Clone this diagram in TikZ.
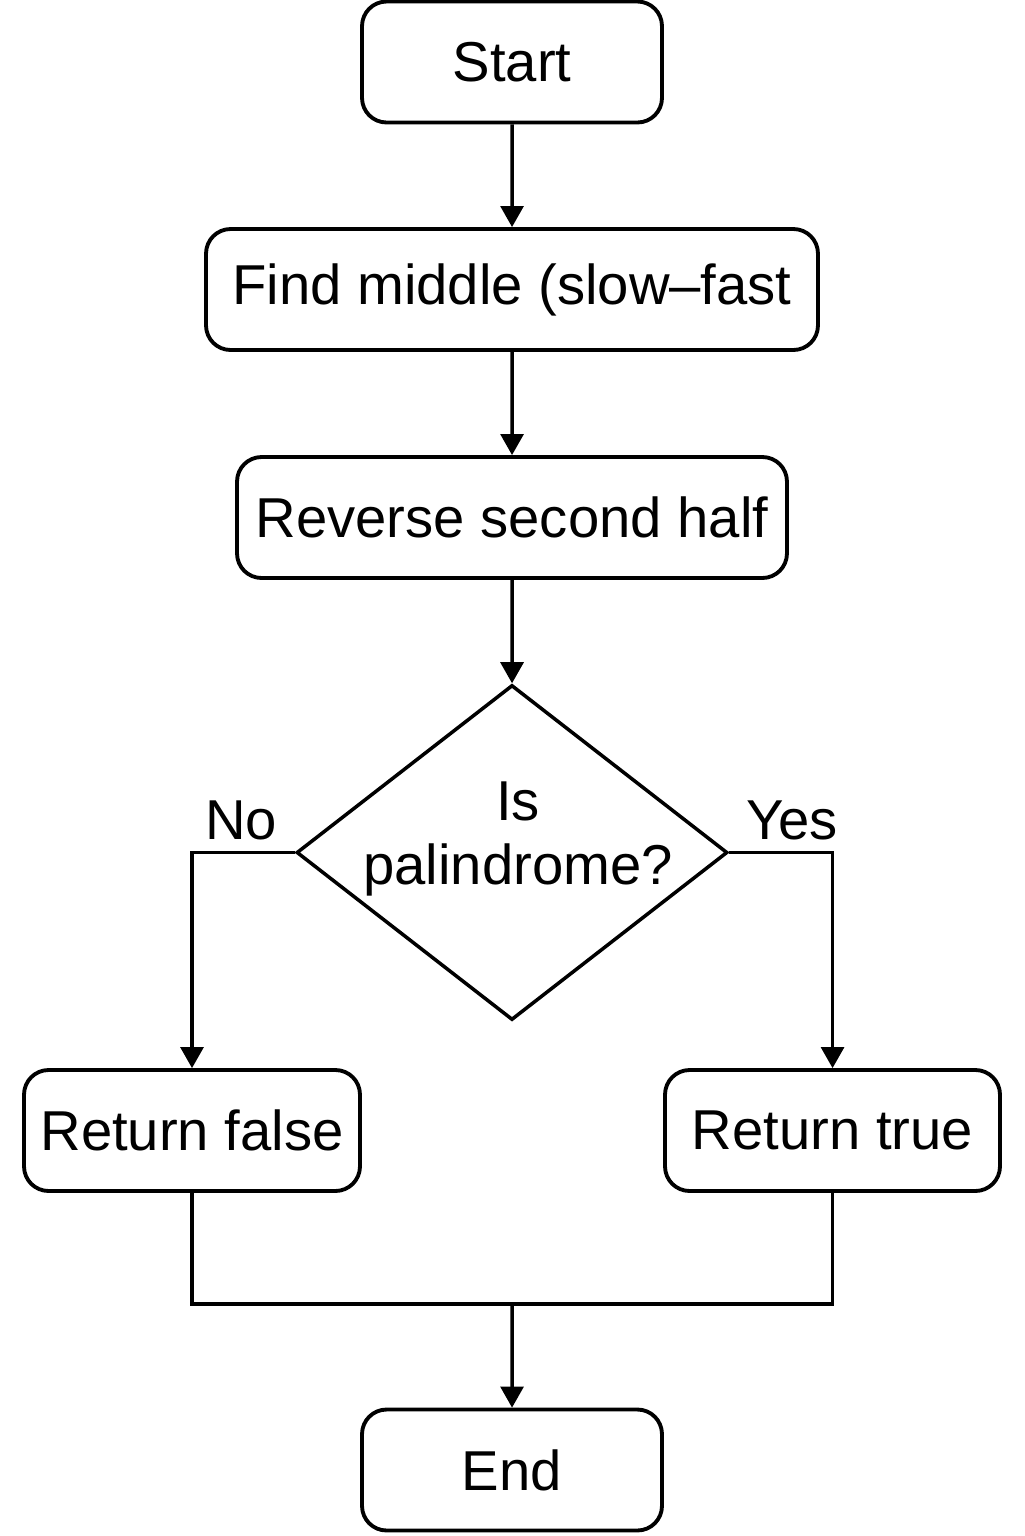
\documentclass[tikz,border=0pt]{standalone}
\usepackage{fontspec}
\setmainfont{Liberation Sans}
\usepackage{tikz}
\usetikzlibrary{positioning,shapes,shapes.geometric,arrows.meta}

\begin{document}
\begin{tikzpicture}[scale=0.1]
\tikzstyle{every node}+=[inner sep=0pt]
\tikzstyle{stepbox}=[draw, line width=1.1pt, rounded corners=7pt, minimum height=1.21cm, font=\fontsize{16}{18}\selectfont]
\tikzstyle{decision}=[draw, line width=1.0pt, diamond, minimum width=4.31cm, minimum height=3.35cm]
\tikzstyle{flow}=[line width=1.0pt, -{Triangle[width=6.5pt,length=6pt]}]
\tikzstyle{lbl}=[font=\fontsize{16}{18}\selectfont]
\useasboundingbox (0,0) rectangle (102.4,-153.6);
% boxes
\node [stepbox, minimum width=3.0cm] (start) at (51.2,-6.2) {Start};
\node [stepbox, minimum width=6.12cm] (middle) at (51.2,-28.95) {Find middle (slow–fast};
\node [stepbox, minimum width=5.5cm] (reverse) at (51.2,-51.75) {Reverse second half};
\node [decision] (check) at (51.2,-85.25) {};
\node [lbl, align=center] at (51.8,-83.9) {Is\\palindrome?};
\node [stepbox, minimum width=3.36cm] (false) at (19.2,-113.05) {Return false};
\node [stepbox, minimum width=3.35cm] (true) at (83.25,-113.05) {Return true};
\node [stepbox, minimum width=3.0cm] (end) at (51.2,-147.0) {End};
\coordinate (join) at (51.2,-130.4);
% connectors
\draw [flow] (start) -- (middle);
\draw [flow] (middle) -- (reverse);
\draw [flow] (reverse) -- (check.north);
\draw [flow] (check.west) -| (false.north);
\draw [flow] (check.east) -| (true.north);
\draw [line width=1.0pt] (false.south) |- (join) -| (true.south);
\draw [flow] (join) -- (end);
\node [lbl] (no) at (24.1,-82.0) {No};
\node [lbl] (yes) at (79.2,-82.0) {Yes};
\end{tikzpicture}
\end{document}
